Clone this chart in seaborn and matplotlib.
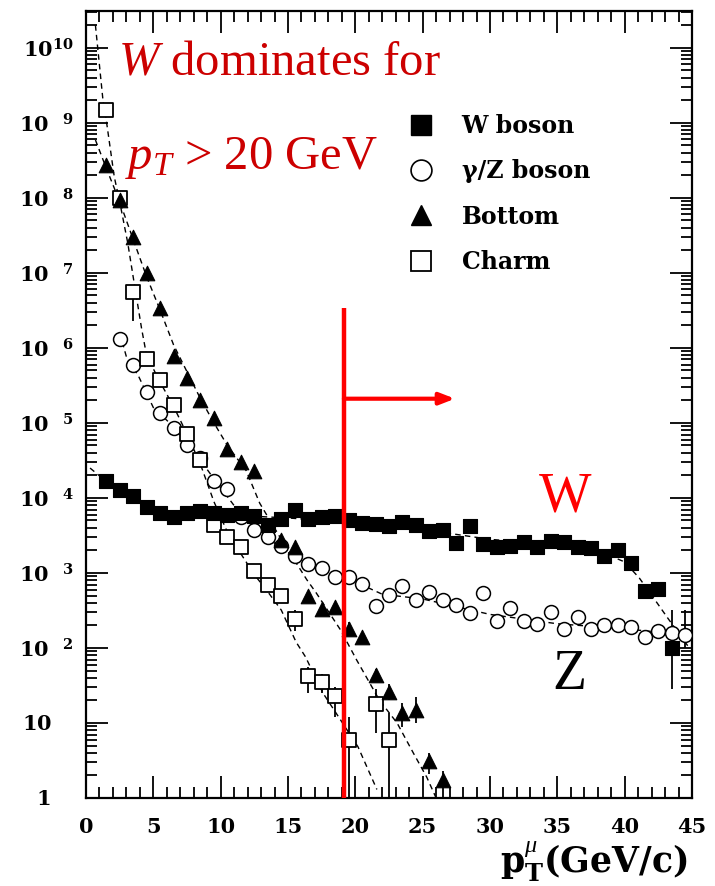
import numpy as np
import pandas as pd
import matplotlib
matplotlib.use("Agg")
import matplotlib.pyplot as plt
import seaborn as sns
from matplotlib.lines import Line2D
from matplotlib.transforms import ScaledTranslation
from matplotlib.ticker import MultipleLocator, LogLocator, FixedLocator, FixedFormatter, NullFormatter

# ---------------- data ----------------
w_x = [1.5, 2.5, 3.5, 4.5, 5.5, 6.5, 7.5, 8.5, 9.5, 10.5, 11.5, 12.5, 13.5, 14.5,
       15.5, 16.5, 17.5, 18.5, 19.5, 20.5, 21.5, 22.5, 23.5, 24.5, 25.5, 26.5, 27.5,
       28.5, 29.5, 30.5, 31.5, 32.5, 33.5, 34.5, 35.5, 36.5, 37.5, 38.5, 39.5, 40.5,
       41.5, 42.5, 43.5]
w_y = [1.7e4, 1.26e4, 1.05e4, 7.6e3, 6.3e3, 5.6e3, 6.2e3, 6.6e3, 6.2e3, 6.0e3, 6.3e3,
       5.8e3, 4.4e3, 5.2e3, 6.9e3, 5.2e3, 5.5e3, 5.8e3, 5.0e3, 4.6e3, 4.5e3, 4.2e3,
       4.8e3, 4.4e3, 3.6e3, 3.7e3, 2.5e3, 4.2e3, 2.45e3, 2.2e3, 2.3e3, 2.6e3, 2.2e3,
       2.7e3, 2.6e3, 2.2e3, 2.15e3, 1.7e3, 2.05e3, 1.35e3, 5.8e2, 6.2e2, 1.0e2]

z_x = [2.5, 3.5, 4.5, 5.5, 6.5, 7.5, 8.5, 9.5, 10.5, 11.5, 12.5, 13.5, 14.5, 15.5,
       16.5, 17.5, 18.5, 19.5, 20.5, 21.5, 22.5, 23.5, 24.5, 25.5, 26.5, 27.5, 28.5,
       29.5, 30.5, 31.5, 32.5, 33.5, 34.5, 35.5, 36.5, 37.5, 38.5, 39.5, 40.5, 41.5,
       42.5, 43.5, 44.5]
z_y = [1.3e6, 5.9e5, 2.6e5, 1.35e5, 8.5e4, 5.1e4, 3.4e4, 1.66e4, 1.3e4, 5.6e3, 3.7e3,
       3.0e3, 2.3e3, 1.66e3, 1.3e3, 1.17e3, 8.9e2, 8.7e2, 7.2e2, 3.6e2, 5.1e2, 6.6e2,
       4.4e2, 5.6e2, 4.4e2, 3.7e2, 2.9e2, 5.4e2, 2.3e2, 3.4e2, 2.3e2, 2.1e2, 3.0e2,
       1.8e2, 2.6e2, 1.8e2, 2.0e2, 2.0e2, 1.9e2, 1.4e2, 1.66e2, 1.6e2, 1.5e2]

b_x = [1.5, 2.5, 3.5, 4.5, 5.5, 6.5, 7.5, 8.5, 9.5, 10.5, 11.5, 12.5, 14.5, 15.5,
       16.5, 17.5, 18.5, 19.5, 20.5, 21.5, 22.5, 23.5, 24.5, 25.5, 26.5]
b_y = [2.75e8, 9.3e7, 3.0e7, 1.0e7, 3.4e6, 7.8e5, 4.0e5, 2.0e5, 1.17e5, 4.5e4, 3.0e4,
       2.3e4, 2.75e3, 2.2e3, 5.0e2, 3.3e2, 3.5e2, 1.8e2, 1.4e2, 44, 26, 13.5, 14.8,
       3.1, 1.74]

c_x = [1.5, 2.5, 3.5, 4.5, 5.5, 6.5, 7.5, 8.5, 9.5, 10.5, 11.5, 12.5, 13.5, 14.5,
       15.5, 16.5, 17.5, 18.5, 19.5, 21.5, 22.5]
c_y = [1.5e9, 1.0e8, 5.6e6, 7.2e5, 3.7e5, 1.74e5, 7.2e4, 3.2e4, 4.4e3, 3.0e3, 2.2e3,
       1.07e3, 6.9e2, 5.0e2, 2.4e2, 42, 35, 23, 5.9, 18, 5.9]

# error bars (x, low, high)
c_err_x = [3.5, 15.5, 16.5, 17.5, 18.5, 19.5, 21.5, 22.5]
c_err_lo = [2.3e6, 1.7e2, 25, 25, 12, 1, 7.4, 1]
c_err_hi = [5.6e6, 3.2e2, 56, 45, 30, 12, 28, 13.5]
b_err_x = [19.5, 21.5, 22.5, 23.5, 24.5, 25.5, 26.5]
b_err_lo = [1.5e2, 36, 20, 8.9, 10, 2.1, 1]
b_err_hi = [2.2e2, 52, 33, 18.6, 22, 4.0, 2.3]
w_err_x = [43.5]
w_err_lo = [28]
w_err_hi = [3.2e2]
z_err_x = [44.5]
z_err_lo = [1.0e2]
z_err_hi = [3.2e2]

# dashed fit curves
fit_c_x = [0.7, 1.26, 1.5, 2.1, 2.5, 3.1, 3.5, 4.13, 4.5, 5.5, 6.5, 7.5, 8.5, 9.5,
           10.5, 11.5, 12.5, 13.5, 14.5, 15.6, 16.3, 17.6, 18.9, 20.2, 21.6]
fit_c_y = [2.0e10, 2.0e9, 1.1e9, 1.9e8, 8.9e7, 2.5e7, 8.9e6, 1.8e6, 7.9e5, 3.5e5,
           1.66e5, 7.1e4, 2.8e4, 8.9e3, 3.5e3, 1.8e3, 9.5e2, 5.6e2, 3.2e2, 1.2e2,
           76, 25, 11, 4.8, 1.3]
fit_b_x = [0.7, 1.5, 2.5, 3.5, 4.5, 5.5, 6.5, 7.5, 8.5, 9.5, 10.5, 11.9, 12.9, 14.5,
           16.4, 17.1, 18.9, 20.1, 21.8, 23.1, 24.3, 25.3, 26.0]
fit_b_y = [5.9e8, 2.5e8, 8.9e7, 2.8e7, 8.9e6, 3.2e6, 1.1e6, 4.8e5, 2.1e5, 1.0e5,
           5.0e4, 2.3e4, 8.5e3, 2.8e3, 8.1e2, 5.4e2, 1.74e2, 69, 20, 10, 4.0, 1.9, 1.0]
fit_w_x = [0.3, 2, 4, 6, 10, 15, 20, 25, 30, 35, 38, 40, 41.1, 42.4, 43.2, 44.8]
fit_w_y = [2.5e4, 1.4e4, 8.5e3, 6.3e3, 6.0e3, 5.4e3, 4.7e3, 3.8e3, 2.8e3, 2.4e3,
           2.0e3, 1.4e3, 8.5e2, 4.0e2, 2.5e2, 1.0e2]
fit_z_x = [2.5, 3.0, 3.9, 5, 6.5, 8, 9.5, 11, 12.5, 14, 16, 18, 20, 22, 25, 30, 35,
           40, 44.8]
fit_z_y = [1.6e6, 7.6e5, 4.2e5, 1.6e5, 8.9e4, 4.2e4, 1.8e4, 7.9e3, 4.0e3, 2.5e3,
           1.4e3, 1.0e3, 7.6e2, 5.2e2, 4.5e2, 2.8e2, 2.1e2, 1.8e2, 1.48e2]

legend_labels = ["W boson", "\u03b3/Z boson", "Bottom", "Charm"]
x_ticks = [0, 5, 10, 15, 20, 25, 30, 35, 40, 45]
y_ticks = [1, 1e1, 1e2, 1e3, 1e4, 1e5, 1e6, 1e7, 1e8, 1e9, 1e10]
y_tick_labels = [r"$\mathbf{1}$", r"$\mathbf{10}$"] + \
    [r"$\mathbf{10}^{\ \ \ \ \mathbf{%d}}$" % n for n in range(2, 10)] + \
    [r"$\mathbf{10}^{\mathbf{10}}$"]
cut_x = 19.15
cut_top = 3.4e6
arrow_y = 2.1e5
arrow_end_x = 27.4

# ---------------- styling ----------------
sns.set_style("ticks")
plt.rcParams['font.family'] = ['Liberation Serif', 'DejaVu Serif']
plt.rcParams['text.color'] = 'black'
plt.rcParams['mathtext.fontset'] = 'custom'
plt.rcParams['mathtext.rm'] = 'Liberation Serif'
plt.rcParams['mathtext.it'] = 'Liberation Serif:italic'
plt.rcParams['mathtext.bf'] = 'DejaVu Serif:bold'

BOLDSERIF = ['DejaVu Serif']

fig = plt.figure(figsize=(7.15, 8.86), dpi=100)
ax = fig.add_axes([86 / 715, 88 / 886, 606 / 715, 787 / 886])

def fit_line(xs, ys):
    d = pd.DataFrame({"x": xs, "y": ys})
    sns.lineplot(data=d, x="x", y="y", ax=ax, sort=False, estimator=None,
                 color="black", lw=1.0, linestyle=(0, (4, 3)), zorder=1, legend=False)

fit_line(fit_c_x, fit_c_y)
fit_line(fit_b_x, fit_b_y)
fit_line(fit_w_x, fit_w_y)
fit_line(fit_z_x, fit_z_y)

def errs(xs, lo, hi):
    ax.vlines(xs, lo, hi, color="black", lw=1.3, zorder=2)

errs(c_err_x, c_err_lo, c_err_hi)
errs(b_err_x, b_err_lo, b_err_hi)
errs(w_err_x, w_err_lo, w_err_hi)
errs(z_err_x, z_err_lo, z_err_hi)

df_c = pd.DataFrame({"x": c_x, "y": c_y})
df_z = pd.DataFrame({"x": z_x, "y": z_y})
df_b = pd.DataFrame({"x": b_x, "y": b_y})
df_w = pd.DataFrame({"x": w_x, "y": w_y})

sns.scatterplot(data=df_z, x="x", y="y", ax=ax, marker="o", s=100,
                facecolor="white", edgecolor="black", linewidth=1.1, zorder=3, legend=False)
sns.scatterplot(data=df_c, x="x", y="y", ax=ax, marker="s", s=100,
                facecolor="white", edgecolor="black", linewidth=1.3, zorder=4, legend=False)
sns.scatterplot(data=df_b, x="x", y="y", ax=ax, marker="^", s=110,
                color="black", edgecolor="black", linewidth=0.8, zorder=5, legend=False)
sns.scatterplot(data=df_w, x="x", y="y", ax=ax, marker="s", s=100,
                color="black", edgecolor="black", linewidth=0.8, zorder=6, legend=False)

ax.set_yscale("log")
ax.set_xlim(0, 45)
ax.set_ylim(1, 10 ** 10.49)

# ticks
ax.xaxis.set_major_locator(FixedLocator(x_ticks))
ax.xaxis.set_minor_locator(MultipleLocator(1))
ax.yaxis.set_major_locator(FixedLocator(y_ticks))
ax.yaxis.set_major_formatter(FixedFormatter(y_tick_labels))
ax.yaxis.set_minor_locator(LogLocator(base=10, subs=np.arange(2, 10), numticks=100))
ax.yaxis.set_minor_formatter(NullFormatter())
ax.set_xticklabels([str(t) for t in x_ticks])
ax.tick_params(which="both", direction="in", top=True, right=True, width=1.3,
               colors="black", labelcolor="black")
ax.tick_params(which="major", length=16)
ax.tick_params(which="minor", length=8)
ax.tick_params(axis="x", which="major", pad=14, labelsize=15)
ax.tick_params(axis="y", which="major", pad=9, labelsize=15)
for lab in ax.get_xticklabels():
    lab.set_fontweight("bold")
    lab.set_family(BOLDSERIF)
for sp in ax.spines.values():
    sp.set_linewidth(1.6)
    sp.set_color("black")
ax.set_xlabel("")
ax.set_ylabel("")

# "1" and "10" labels sit left, aligned with the "10" of the powers
yt = ax.yaxis.get_major_ticks()
for i, dx in [(0, -0.235), (1, -0.215)]:
    lab = yt[i].label1
    lab.set_transform(lab.get_transform() + ScaledTranslation(dx, 0, fig.dpi_scale_trans))

# red cut line and arrow
ax.vlines([cut_x], 1, cut_top, color="#ff0000", lw=3.2, zorder=8)
ax.annotate("", xy=(arrow_end_x, arrow_y), xytext=(cut_x, arrow_y),
            arrowprops=dict(arrowstyle="-|>,head_length=0.9,head_width=0.35",
                            color="#ff0000", lw=3.0, shrinkA=0, shrinkB=0), zorder=8)

# annotations
ax.text(0.053, 0.935, r"$W$ dominates for", transform=ax.transAxes, color="#cc0000",
        fontsize=35, ha="left", va="center")
ax.text(0.064, 0.813, r"$p_T$ > 20 GeV", transform=ax.transAxes, color="#cc0000",
        fontsize=35, ha="left", va="center")
ax.text(35.6, 10 ** 4.01, "W", color="#ff0000", fontsize=40, ha="center", va="center")
ax.text(35.9, 10 ** 1.64, "Z", color="black", fontsize=40, ha="center", va="center")

# legend
handles = [
    Line2D([], [], ls="none", marker="s", ms=15, mfc="black", mec="black"),
    Line2D([], [], ls="none", marker="o", ms=15, mfc="white", mec="black", mew=1.2),
    Line2D([], [], ls="none", marker="^", ms=15, mfc="black", mec="black"),
    Line2D([], [], ls="none", marker="s", ms=15, mfc="white", mec="black", mew=1.3),
]
leg = ax.legend(handles, legend_labels, loc="upper left", bbox_to_anchor=(0.534, 0.869),
                frameon=False, prop=dict(family=BOLDSERIF, weight="bold", size=17),
                handletextpad=1.2, labelspacing=0.9, handlelength=1.0, borderaxespad=0,
                borderpad=0, labelcolor="black")

fig.text(688 / 715, 1 - 862 / 886, r"$\mathbf{p}_{\mathbf{T}}^{\mu}\mathbf{(GeV/c)}$",
         fontsize=25, ha="right", va="center", color="black")

fig.savefig("out.png", dpi=100)
